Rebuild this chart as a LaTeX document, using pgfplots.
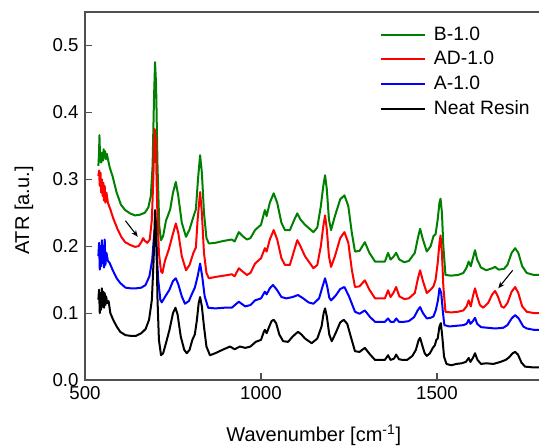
\documentclass[border=0pt]{standalone}
\usepackage{pgfplots}
\pgfplotsset{compat=1.18}
\usepackage{fontspec}
\setmainfont{Liberation Sans}
\usetikzlibrary{arrows.meta}
\definecolor{grn}{RGB}{0,128,0}
\definecolor{axgray}{RGB}{80,80,80}

\pgfplotstableread{
w v
538 0.320
540 0.340
541 0.366
543 0.330
546 0.325
549 0.340
551 0.328
553 0.345
555 0.333
557 0.342
559 0.330
562 0.338
566 0.328
570 0.318
578 0.305
590 0.280
602 0.262
614 0.254
628 0.249
642 0.246
656 0.247
670 0.250
680 0.258
687 0.275
692 0.320
696 0.420
699 0.475
702 0.440
706 0.320
711 0.230
716 0.209
722 0.215
730 0.238
742 0.255
750 0.280
758 0.296
765 0.275
775 0.235
787 0.214
797 0.225
808 0.244
815 0.255
821 0.300
827 0.336
832 0.310
838 0.250
845 0.212
852 0.204
870 0.205
895 0.208
917 0.210
925 0.207
937 0.221
948 0.215
960 0.210
970 0.212
983 0.224
1000 0.232
1011 0.254
1016 0.245
1025 0.265
1036 0.279
1046 0.265
1058 0.235
1068 0.224
1082 0.224
1095 0.240
1103 0.249
1112 0.240
1125 0.232
1149 0.221
1160 0.228
1170 0.260
1177 0.290
1182 0.306
1187 0.285
1193 0.240
1199 0.224
1210 0.245
1225 0.270
1237 0.276
1248 0.260
1258 0.220
1267 0.192
1280 0.193
1295 0.206
1308 0.190
1324 0.177
1340 0.177
1352 0.177
1361 0.190
1368 0.180
1376 0.184
1384 0.190
1393 0.180
1407 0.176
1420 0.178
1437 0.190
1446 0.213
1452 0.226
1460 0.210
1471 0.192
1482 0.200
1490 0.215
1496 0.218
1502 0.240
1507 0.265
1510 0.271
1514 0.250
1518 0.200
1524 0.157
1540 0.156
1560 0.157
1575 0.160
1584 0.168
1590 0.177
1596 0.170
1602 0.182
1608 0.194
1614 0.180
1625 0.168
1640 0.164
1657 0.167
1665 0.169
1675 0.165
1690 0.166
1700 0.172
1712 0.190
1722 0.197
1731 0.190
1742 0.170
1755 0.160
1775 0.157
1800 0.157
}\greendata

\pgfplotstableread{
w v
538 0.305
540 0.313
542 0.290
544 0.310
546 0.280
548 0.300
550 0.275
552 0.295
554 0.268
556 0.290
558 0.265
561 0.280
565 0.265
572 0.255
580 0.242
592 0.226
603 0.214
614 0.206
628 0.202
642 0.199
652 0.200
660 0.206
665 0.212
670 0.208
677 0.205
684 0.210
690 0.240
694 0.300
698 0.375
701 0.360
705 0.260
710 0.190
716 0.162
720 0.160
727 0.178
738 0.195
748 0.215
758 0.234
765 0.220
775 0.185
787 0.164
797 0.172
808 0.190
815 0.198
820 0.240
827 0.281
832 0.250
838 0.190
845 0.160
852 0.152
870 0.154
895 0.156
917 0.158
925 0.155
937 0.167
948 0.162
960 0.157
970 0.160
983 0.174
1000 0.182
1011 0.197
1016 0.192
1025 0.210
1036 0.224
1046 0.210
1058 0.182
1068 0.172
1082 0.172
1095 0.195
1103 0.209
1112 0.200
1125 0.185
1149 0.167
1160 0.172
1170 0.200
1177 0.230
1182 0.246
1187 0.225
1193 0.185
1199 0.169
1210 0.185
1225 0.212
1237 0.221
1248 0.205
1258 0.165
1267 0.139
1280 0.140
1295 0.149
1308 0.135
1324 0.122
1340 0.122
1352 0.122
1361 0.134
1368 0.124
1376 0.130
1384 0.139
1393 0.125
1407 0.121
1420 0.122
1437 0.130
1446 0.152
1452 0.164
1460 0.148
1471 0.130
1482 0.135
1490 0.140
1496 0.150
1502 0.175
1507 0.205
1510 0.216
1514 0.190
1518 0.140
1524 0.102
1540 0.101
1560 0.102
1575 0.104
1584 0.110
1590 0.119
1596 0.110
1602 0.125
1608 0.137
1614 0.125
1622 0.112
1631 0.108
1645 0.115
1657 0.128
1665 0.133
1673 0.125
1683 0.110
1690 0.108
1700 0.115
1712 0.132
1722 0.139
1731 0.130
1742 0.110
1755 0.102
1775 0.100
1800 0.100
}\reddata

\pgfplotstableread{
w v
538 0.185
540 0.205
542 0.165
544 0.200
546 0.170
548 0.209
550 0.175
552 0.200
554 0.168
556 0.210
558 0.172
561 0.190
565 0.178
570 0.175
578 0.165
590 0.152
600 0.145
615 0.138
630 0.137
645 0.137
660 0.138
672 0.142
683 0.155
691 0.180
696 0.215
699 0.226
703 0.200
708 0.150
714 0.120
718 0.116
727 0.124
740 0.135
750 0.148
758 0.152
765 0.143
775 0.125
784 0.114
795 0.118
805 0.130
812 0.138
820 0.155
827 0.174
833 0.155
840 0.125
850 0.108
870 0.107
895 0.108
917 0.108
937 0.117
955 0.110
970 0.112
983 0.119
1000 0.122
1011 0.132
1016 0.128
1025 0.137
1034 0.142
1045 0.135
1058 0.124
1072 0.122
1090 0.124
1105 0.127
1120 0.122
1135 0.116
1149 0.114
1165 0.122
1175 0.140
1182 0.152
1188 0.140
1194 0.123
1199 0.119
1212 0.126
1225 0.136
1237 0.139
1250 0.125
1267 0.102
1280 0.099
1295 0.104
1310 0.094
1324 0.087
1340 0.087
1352 0.087
1361 0.092
1368 0.087
1378 0.087
1384 0.092
1392 0.087
1407 0.087
1420 0.088
1435 0.094
1445 0.104
1452 0.109
1460 0.100
1471 0.092
1482 0.093
1490 0.095
1497 0.105
1503 0.120
1507 0.137
1512 0.130
1517 0.100
1521 0.082
1535 0.080
1555 0.081
1575 0.082
1584 0.084
1590 0.090
1595 0.084
1602 0.088
1608 0.093
1614 0.084
1625 0.079
1645 0.078
1665 0.077
1688 0.078
1700 0.082
1712 0.092
1722 0.097
1732 0.092
1745 0.080
1755 0.077
1775 0.075
1800 0.075
}\bluedata

\pgfplotstableread{
w v
538 0.120
540 0.135
542 0.100
544 0.130
546 0.105
548 0.137
550 0.110
552 0.132
554 0.108
556 0.130
558 0.112
560 0.125
563 0.115
567 0.118
572 0.100
580 0.090
590 0.080
600 0.072
615 0.067
630 0.066
645 0.066
660 0.070
672 0.076
682 0.090
690 0.120
695 0.180
699 0.254
702 0.230
706 0.120
710 0.060
716 0.037
722 0.040
730 0.055
740 0.075
750 0.100
757 0.108
763 0.098
772 0.065
782 0.045
789 0.040
797 0.045
805 0.060
812 0.068
818 0.090
823 0.115
827 0.124
832 0.110
838 0.080
845 0.050
855 0.037
870 0.040
890 0.045
912 0.050
925 0.046
940 0.050
955 0.048
970 0.050
985 0.057
1000 0.060
1008 0.072
1011 0.075
1016 0.070
1022 0.078
1030 0.088
1036 0.090
1043 0.085
1052 0.068
1063 0.058
1077 0.057
1090 0.065
1105 0.072
1115 0.068
1125 0.062
1144 0.055
1160 0.062
1172 0.080
1178 0.100
1182 0.107
1187 0.095
1194 0.068
1201 0.058
1212 0.070
1225 0.086
1235 0.090
1245 0.084
1255 0.065
1267 0.043
1280 0.042
1295 0.048
1310 0.038
1324 0.030
1340 0.030
1352 0.030
1361 0.037
1368 0.030
1378 0.032
1384 0.038
1392 0.031
1403 0.030
1415 0.030
1430 0.036
1440 0.045
1448 0.060
1452 0.063
1458 0.052
1465 0.040
1471 0.036
1480 0.040
1488 0.048
1494 0.052
1498 0.060
1502 0.062
1507 0.080
1511 0.085
1515 0.065
1520 0.035
1527 0.024
1540 0.022
1555 0.024
1570 0.025
1582 0.027
1590 0.033
1595 0.027
1602 0.033
1608 0.040
1615 0.030
1625 0.024
1640 0.025
1660 0.024
1680 0.027
1695 0.030
1705 0.034
1715 0.040
1722 0.042
1730 0.038
1740 0.026
1750 0.020
1770 0.019
1800 0.019
}\blackdata

\begin{document}
\fontsize{14}{16}\selectfont
\begin{tikzpicture}
\path[use as bounding box, clip] (-63.75pt,-49.5pt) rectangle (340.5pt,285pt);
\begin{axis}[
  at={(0pt,0pt)}, anchor=south west,
  scale only axis,
  width=343.2pt, height=276pt,
  xmin=500, xmax=1800, ymin=0, ymax=0.55,
  xtick={500,1000,1500},
  ytick={0,0.1,0.2,0.3,0.4,0.5},
  xtick pos=bottom, ytick pos=left,
  tick align=inside,
  major tick length=5pt,
  axis line style={axgray, line width=0.8pt},
  every tick/.style={axgray, line width=0.8pt},
  /pgf/number format/assume math mode=true,
  yticklabel style={/pgf/number format/fixed, /pgf/number format/fixed zerofill, /pgf/number format/precision=1},
  xticklabel style={/pgf/number format/1000 sep={}},
  tick label style={font=\fontsize{14}{16}\selectfont},
  label style={font=\fontsize{15}{17}\selectfont},
  xlabel={Wavenumber [cm\textsuperscript{-1}]},
  ylabel={ATR [a.u.]},
  xlabel style={yshift=-9pt},
  ylabel style={yshift=5pt, xshift=-11pt},
  legend cell align=left,
  legend style={draw=none, fill=none, at={(0.641,0.972)}, anchor=north west,
    font=\fontsize{14.5}{16}\selectfont, row sep=2.3pt, inner sep=1pt},
  legend image code/.code={\draw[#1, line width=1.6pt] (0pt,0pt) -- (33pt,0pt); \path (37pt,0pt);},
  every axis plot/.append style={line width=1.5pt, line join=round},
]
\addplot[color=grn, no markers] table[x=w, y=v] {\greendata};
\addlegendentry{B-1.0}
\addplot[color=red, no markers] table[x=w, y=v] {\reddata};
\addlegendentry{AD-1.0}
\addplot[color=blue, no markers] table[x=w, y=v] {\bluedata};
\addlegendentry{A-1.0}
\addplot[color=black, no markers] table[x=w, y=v] {\blackdata};
\addlegendentry{Neat Resin}
\draw[-{Stealth[length=5pt,width=4pt]}, line width=0.8pt] (axis cs:615,0.238) -- (axis cs:650,0.214);
\draw[-{Stealth[length=5pt,width=4pt]}, line width=0.8pt] (axis cs:1715,0.164) -- (axis cs:1674,0.137);
\end{axis}
\end{tikzpicture}
\end{document}
